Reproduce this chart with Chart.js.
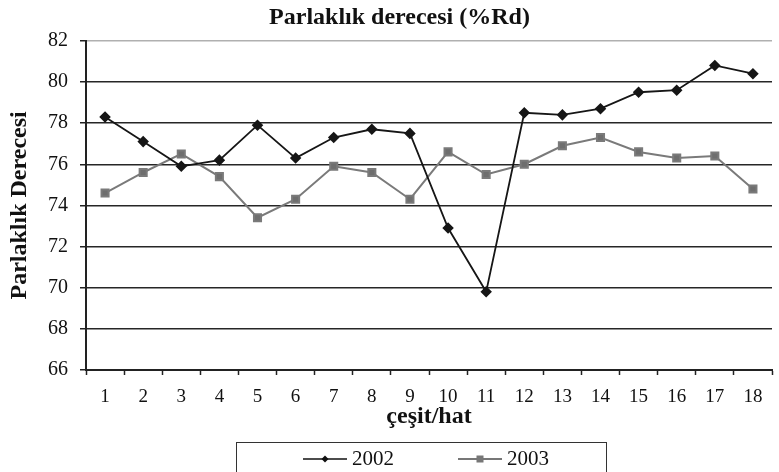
<!DOCTYPE html>
<html>
<head>
<meta charset="utf-8">
<script src="https://cdn.jsdelivr.net/npm/chart.js@4.4.1/dist/chart.umd.min.js"></script>
<style>
  html, body { margin: 0; padding: 0; background: #fff; overflow: hidden; }
  #wrap { position: relative; width: 779px; height: 472px; }
  #legend {
    position: absolute; left: 236px; top: 442px; width: 369px; height: 40px;
    border: 1px solid #333; font-family: 'Liberation Serif', 'Times New Roman', serif;
    font-size: 21px; color: #111;
  }
  .item { position: absolute; top: 5px; height: 21px; line-height: 21px; display: flex; align-items: center; }
  .item svg { margin-right: 5px; }
</style>
</head>
<body>
<div id="wrap">
  <canvas id="chart" width="779" height="472"></canvas>
  <div id="legend">
    <div class="item" style="left:66px">
      <svg width="44" height="12"><line x1="0" y1="6" x2="44" y2="6" stroke="#111" stroke-width="1.5"/><polygon points="22,2.5 25.5,6 22,9.5 18.5,6" fill="#111"/></svg>2002
    </div>
    <div class="item" style="left:221px">
      <svg width="44" height="12"><line x1="0" y1="6" x2="44" y2="6" stroke="#777" stroke-width="1.8"/><rect x="18.5" y="2.5" width="7" height="7" fill="#777"/></svg>2003
    </div>
  </div>
</div>
<script>
// data
const categories = ['1', '2', '3', '4', '5', '6', '7', '8', '9', '10', '11', '12', '13', '14', '15', '16', '17', '18'];
const values2002 = [78.3, 77.1, 75.9, 76.2, 77.9, 76.3, 77.3, 77.7, 77.5, 72.9, 69.8, 78.5, 78.4, 78.7, 79.5, 79.6, 80.8, 80.4];
const values2003 = [74.6, 75.6, 76.5, 75.4, 73.4, 74.3, 75.9, 75.6, 74.3, 76.6, 75.5, 76.0, 76.9, 77.3, 76.6, 76.3, 76.4, 74.8];
const yMin = 66;
const yMax = 82;
const yStep = 2;

const serif = "'Liberation Serif', 'Times New Roman', serif";
Chart.defaults.font.family = serif;
Chart.defaults.color = '#111';

const ctx = document.getElementById('chart').getContext('2d');
const chart = new Chart(ctx, {
  type: 'line',
  data: {
    labels: categories,
    datasets: [
      {
        label: '2002',
        data: values2002,
        borderColor: '#161616',
        backgroundColor: '#161616',
        borderWidth: 1.8,
        pointStyle: 'rectRot',
        pointRadius: 4.5,
        pointHoverRadius: 4.5,
        tension: 0
      },
      {
        label: '2003',
        data: values2003,
        borderColor: '#7a7a7a',
        backgroundColor: '#6e6e6e',
        borderWidth: 2,
        pointStyle: 'rect',
        pointRadius: 5,
        pointHoverRadius: 5,
        tension: 0
      }
    ]
  },
  options: {
    responsive: false,
    animation: false,
    layout: { padding: { left: 20, right: 0, top: 0, bottom: 30 } },
    plugins: {
      legend: { display: false },
      tooltip: { enabled: false },
      title: {
        display: true,
        text: 'Parlaklık derecesi (%Rd)',
        font: { size: 24, weight: 'bold' },
        color: '#111',
        padding: { top: 3, bottom: 9 }
      }
    },
    scales: {
      x: {
        offset: true,
        grid: {
          offset: true,
          drawOnChartArea: false,
          drawTicks: true,
          tickLength: 5,
          tickColor: '#222',
          tickWidth: 1.5
        },
        border: { color: '#222', width: 2 },
        ticks: { font: { size: 19 }, padding: 11, color: '#111', maxRotation: 0 },
        title: {
          display: true,
          text: 'çeşit/hat',
          font: { size: 24, weight: 'bold' },
          color: '#111',
          padding: { top: 0, bottom: 11 }
        },
        afterFit: (scale) => { scale.height = 72; }
      },
      y: {
        min: yMin,
        max: yMax,
        ticks: { stepSize: yStep, font: { size: 20 }, padding: 12, color: '#111' },
        grid: {
          color: (c) => (c.tick && c.tick.value === yMax ? '#b0b0b0' : '#262626'),
          lineWidth: 1.5,
          tickLength: 6,
          tickColor: '#222',
          tickWidth: 1.5
        },
        border: { color: '#222', width: 2 },
        title: {
          display: true,
          text: 'Parlaklık Derecesi',
          font: { size: 24, weight: 'bold' },
          color: '#111',
          padding: { top: -14.4, bottom: 0 }
        },
        afterFit: (scale) => { scale.width = 66; }
      }
    }
  }
});
</script>
</body>
</html>
